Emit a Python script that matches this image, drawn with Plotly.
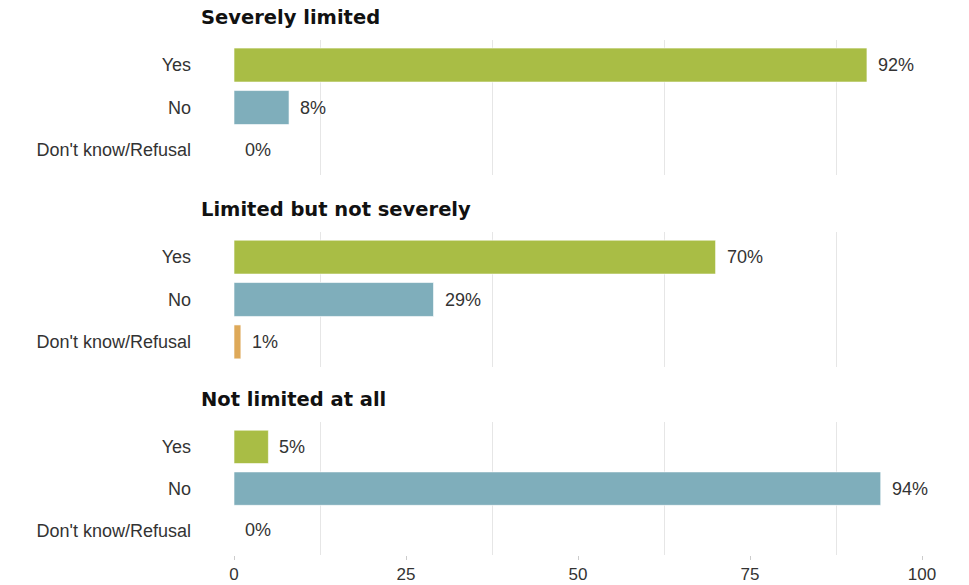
import plotly.graph_objects as go

groups = ["Severely limited", "Limited but not severely", "Not limited at all"]
categories = ["Yes", "No", "Don't know/Refusal"]
values = [
    [92, 8, 0],
    [70, 29, 1],
    [5, 94, 0],
]
colors = ["#a9bd45", "#7faebb", "#dea959"]
x_ticks = [0, 25, 50, 75, 100]

domains = [(0.7377, 1.0), (0.3652, 0.6270), (0.0, 0.2578)]

fig = go.Figure()
label_font = dict(family="Liberation Sans, Arial, sans-serif", size=18, color="#333333")
tick_font = dict(family="Liberation Sans, Arial, sans-serif", size=17, color="#333333")

for i, (g, vals) in enumerate(zip(groups, values)):
    n = "" if i == 0 else str(i + 1)
    fig.add_trace(go.Bar(
        x=vals, y=categories, orientation="h",
        marker=dict(color=colors, line=dict(color="rgba(255,255,255,0.6)", width=1)),
        xaxis="x" + n, yaxis="y" + n, showlegend=False, hoverinfo="skip",
    ))
    for c, v in zip(categories, vals):
        fig.add_annotation(x=v, y=c, xref="x" + n, yref="y" + n, text=f"{v}%",
                           showarrow=False, xanchor="left", xshift=9, font=label_font)
    fig.add_annotation(x=0, y=1, xref="paper", yref=f"y{n} domain", text=f"<b>{g}</b>",
                       showarrow=False, xanchor="left", yanchor="bottom", xshift=-35, yshift=9,
                       font=dict(family="DejaVu Sans, Verdana, sans-serif", size=19.5, color="#111111"))
    last = i == 2
    fig.update_layout(**{
        "xaxis" + n: dict(
            domain=[0, 1], range=[0, 100], anchor="y" + n,
            showgrid=False, zeroline=False, showline=False,
            tickvals=x_ticks, showticklabels=last,
            ticks="outside" if last else "", ticklen=4, tickcolor="#cccccc",
            tickfont=tick_font, automargin=False, fixedrange=True,
            minor=dict(tick0=12.5, dtick=25, showgrid=True, gridcolor="#e6e6e6", gridwidth=1, ticks=""),
        ),
        "yaxis" + n: dict(
            domain=list(domains[i]), anchor="x" + n, range=[2.59, -0.59],
            showgrid=False, zeroline=False, showline=False, ticks="",
            tickfont=label_font, ticklabelstandoff=42, automargin=False, fixedrange=True,
        ),
    })

fig.update_layout(
    template="none",
    width=969, height=585,
    margin=dict(l=234, r=47, t=40, b=30),
    bargap=0.2,
    paper_bgcolor="white", plot_bgcolor="white",
    font=label_font,
)

fig.write_html("out.html", config={"displayModeBar": False})
